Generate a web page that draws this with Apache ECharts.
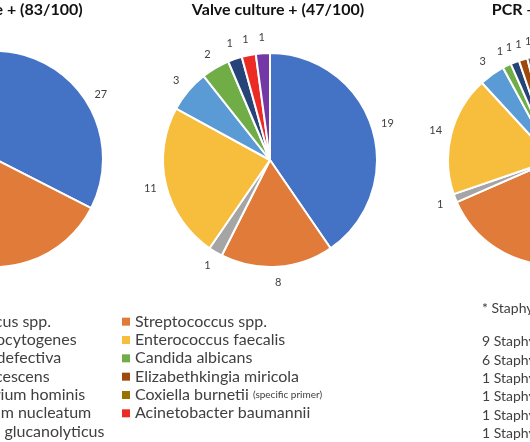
<!DOCTYPE html>
<html>
<head>
<meta charset="utf-8">
<script src="https://cdn.jsdelivr.net/npm/echarts@6/dist/echarts.min.js"></script>
<style>
html,body{margin:0;padding:0;background:#fff;}
#chart{width:530px;height:442px;}
</style>
</head>
<body>
<div id="chart"></div>
<script>
// ---- data ----
const species = [
  'Staphylococcus spp.', 'Streptococcus spp.', 'Listeria monocytogenes', 'Enterococcus faecalis',
  'Abiotrophia defectiva', 'Candida albicans', 'Serratia marcescens', 'Elizabethkingia miricola',
  'Cardiobacterium hominis', 'Coxiella burnetii', 'Fusobacterium nucleatum', 'Acinetobacter baumannii',
  'Paenibacillus glucanolyticus'
];
const bloodValues = [27, 31, 1, 14, 3, 2, 1, 0, 2, 0, 1, 1, 0];
const valveValues = [19, 8, 1, 11, 3, 2, 1, 0, 0, 0, 0, 1, 1];
const pcrValues   = [26, 26, 1, 14, 3, 1, 1, 1, 1, 1, 1, 0, 0];
const pieTitles = ['Blood culture + (83/100)', 'Valve culture + (47/100)', 'PCR + (76/100)'];
const legendLeft = ['Staphylococcus spp.', 'Listeria monocytogenes', 'Abiotrophia defectiva', 'Serratia marcescens',
  'Cardiobacterium hominis', 'Fusobacterium nucleatum', 'Paenibacillus glucanolyticus'];
const legendRight = ['Streptococcus spp.', 'Enterococcus faecalis', 'Candida albicans', 'Elizabethkingia miricola',
  'Coxiella burnetii', 'Acinetobacter baumannii'];
const noteHeader = '* Staphylococcus spp.';
const noteCounts = [9, 6, 1, 1, 1, 1];
const noteNames = ['Staphylococcus aureus', 'Staphylococcus epidermidis', 'Staphylococcus lugdunensis',
  'Staphylococcus capitis', 'Staphylococcus hominis', 'Staphylococcus warneri'];

// ---- styles ----
const palette = ['#4472C4', '#E07B39', '#A5A5A5', '#F6BE3C', '#5B9BD5', '#70AD47', '#264478', '#9E480E',
  '#636363', '#997300', '#255E91', '#EC2B24', '#7438A6'];
const pieCenters = [[-5, 159], [270, 160], [553, 160]];
const titleX = [-5, 278, 547];
const pieR = [108, 107, 105];
const allValues = [bloodValues, valveValues, pcrValues];
const FONT = 'Lato';

function pieData(vals, transparent) {
  const out = [];
  vals.forEach((v, i) => {
    if (v > 0) out.push({
      name: species[i], value: v,
      itemStyle: { color: transparent ? 'rgba(0,0,0,0)' : palette[i] }
    });
  });
  return out;
}

const series = [];
allValues.forEach((vals, k) => {
  series.push({
    type: 'pie', center: pieCenters[k], radius: pieR[k], startAngle: 90, clockwise: true,
    data: pieData(vals, false), label: { show: false }, labelLine: { show: false },
    itemStyle: { borderColor: '#fff', borderWidth: 2 },
    emphasis: { disabled: true }, silent: true, animation: false
  });
});
allValues.forEach((vals, k) => {
  series.push({
    type: 'pie', center: pieCenters[k], radius: [pieR[k] + 5, pieR[k] + 21], startAngle: 90, clockwise: true,
    data: pieData(vals, true),
    label: { show: true, position: 'inside', formatter: '{c}', color: '#404040', fontFamily: FONT, fontSize: 11 },
    labelLine: { show: false }, itemStyle: { borderWidth: 0 },
    emphasis: { disabled: true }, silent: true, animation: false
  });
});

function legendFor(names, left) {
  return {
    orient: 'vertical', left: left, top: 312.5, padding: 0, itemGap: 0, itemWidth: 8, itemHeight: 8, icon: 'rect',
    selectedMode: false, itemStyle: { borderWidth: 0 }, data: names,
    textStyle: {
      fontFamily: FONT, fontSize: 16, color: '#404040', lineHeight: 18.33,
      rich: {
        m: { fontFamily: FONT, fontSize: 16, color: '#404040', lineHeight: 18.33 },
        s: { fontFamily: FONT, fontSize: 10, color: '#404040', lineHeight: 18.33 }
      }
    },
    formatter: function (name) {
      if (name === 'Coxiella burnetii') return '{m|' + name + '} {s|(specific primer)}';
      return '{m|' + name + '}';
    }
  };
}

const graphics = [];
pieTitles.forEach((t, k) => {
  graphics.push({
    type: 'text', x: titleX[k], y: 10,
    style: { text: t, fill: '#111', font: 'bold 16px ' + FONT, textAlign: 'center', textVerticalAlign: 'middle' }
  });
});
graphics.push({
  type: 'text', x: 482, y: 308,
  style: { text: noteHeader, fill: '#404040', font: '14px ' + FONT, textVerticalAlign: 'middle' }
});
noteCounts.forEach((c, i) => {
  graphics.push({
    type: 'text', x: 482, y: 341.7 + i * 18.33,
    style: { text: c + ' ' + noteNames[i], fill: '#404040', font: '14px ' + FONT, textVerticalAlign: 'middle' }
  });
});

const chart = echarts.init(document.getElementById('chart'), null, { renderer: 'canvas' });
chart.setOption({
  backgroundColor: '#fff',
  animation: false,
  legend: [legendFor(legendLeft, -103), legendFor(legendRight, 122)],
  graphic: graphics,
  series: series
});
</script>
</body>
</html>
